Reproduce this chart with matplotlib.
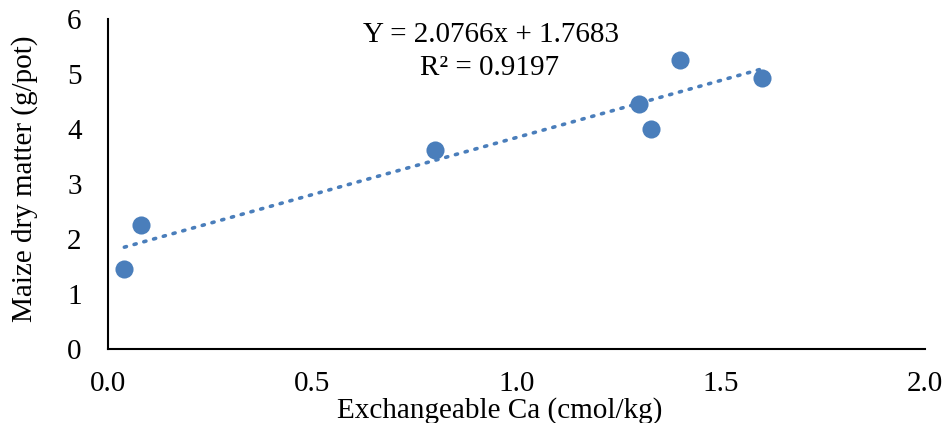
import matplotlib
matplotlib.use("Agg")
import matplotlib.pyplot as plt
import numpy as np

x_ca = [0.04, 0.08, 0.80, 1.30, 1.33, 1.40, 1.60]
y_dm = [1.45, 2.25, 3.62, 4.46, 4.00, 5.26, 4.93]
slope, intercept = 2.0766, 1.7683
r2 = 0.9197
x_ticks = [0.0, 0.5, 1.0, 1.5, 2.0]
y_ticks = [0, 1, 2, 3, 4, 5, 6]

plt.rcParams['font.family'] = ['Liberation Serif', 'DejaVu Serif']
fig = plt.figure(figsize=(9.45, 4.23), dpi=100)
ax = fig.add_axes([108/945, 1-349/423, (925-108)/945, (349-19)/423])

color = '#4a7ebb'
ax.scatter(x_ca, y_dm, s=170, color=color, zorder=3, linewidths=0)
xl = np.array([min(x_ca), max(x_ca)])
ax.plot(xl, slope*xl + intercept, linestyle=(0, (0.6, 2.2)), color=color,
        linewidth=2.6, dash_capstyle='round', zorder=2)

ax.set_xlim(0, 2.0)
ax.set_ylim(0, 6)
ax.set_xticks(x_ticks)
ax.set_xticklabels([f"{v:.1f}" for v in x_ticks])
ax.set_yticks(y_ticks)
ax.tick_params(axis='both', length=0, labelsize=21)
ax.tick_params(axis='x', pad=16)
ax.tick_params(axis='y', pad=19)
for s in ['top', 'right']:
    ax.spines[s].set_visible(False)
for s in ['left', 'bottom']:
    ax.spines[s].set_linewidth(1.5)
    ax.spines[s].set_color('black')

ax.set_xlabel('Exchangeable Ca (cmol/kg)', fontsize=21, va='center')
ax.xaxis.set_label_coords(0.48, -0.186)
ax.set_ylabel('Maize dry matter (g/pot)', fontsize=21, va='center')
ax.yaxis.set_label_coords(-0.1016, 0.517)

ax.text(0.9376, 5.71, f"Y = {slope}x + {intercept}", fontsize=21, ha='center', va='center')
ax.text(0.935, 5.11, f"R² = {r2}", fontsize=21, ha='center', va='center')

fig.savefig('out.png', dpi=100)
